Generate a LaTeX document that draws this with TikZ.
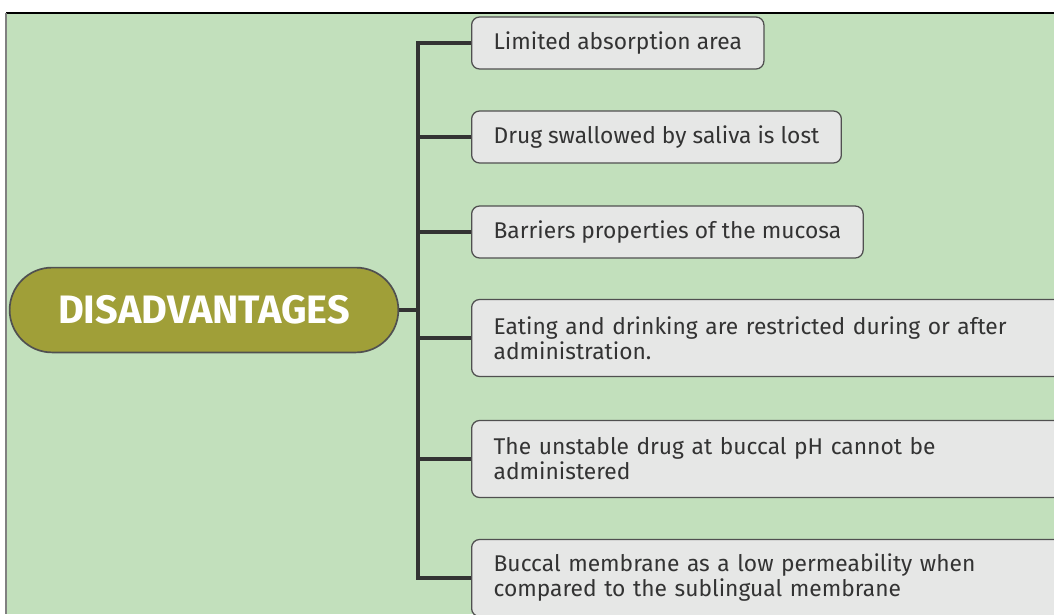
\documentclass[tikz,border=0pt]{standalone}
\usepackage{fontspec}
\setmainfont{Fira Sans}
\usetikzlibrary{shapes.misc}

\definecolor{bggreen}{HTML}{C2E0BC}
\definecolor{boxgray}{HTML}{E6E7E6}
\definecolor{boxline}{HTML}{505050}
\definecolor{textgray}{HTML}{333333}
\definecolor{olive}{HTML}{A09F38}
\definecolor{trunk}{HTML}{333333}

\tikzset{
  item/.style={draw=boxline, fill=boxgray, rounded corners=0.2cm, line width=0.9pt,
    anchor=west, align=left, minimum height=1.3cm, inner xsep=0.55cm,
    text=textgray, font=\fontsize{16.2}{17.8}\selectfont},
  wideitem/.style={item, minimum height=1.925cm, text width=14.1cm},
  branch/.style={draw=trunk, line width=2.8pt},
}

\begin{document}
\begin{tikzpicture}[x=0.025cm, y=-0.025cm]
    \useasboundingbox (0,0) rectangle (1054,614);
    \fill[bggreen] (6,13) rectangle (1054,614);
    \draw[black, line width=0.8pt] (6,13) -- (1054,13);
    \draw[gray, line width=0.8pt] (6,13) -- (6,614);

    \node[rounded rectangle, draw=boxline, fill=olive, line width=1.2pt,
      minimum width=9.95cm, minimum height=2.12cm, text=white,
      font=\fontsize{28.2}{30}\selectfont\bfseries] (main) at (204,310) {DISADVANTAGES};

    \node[item] (b1) at (471,43) {Limited absorption area};
    \node[item] (b2) at (471,137) {Drug swallowed by saliva is lost};
    \node[item] (b3) at (471,232) {Barriers properties of the mucosa};
    \node[wideitem] (b4) at (471,338) {Eating and drinking are restricted during or after\\administration.};
    \node[wideitem] (b5) at (471,459) {The unstable drug at buccal pH cannot be\\administered};
    \node[wideitem] (b6) at (471,578) {Buccal membrane as a low permeability when\\compared to the sublingual membrane};

    \coordinate (hub) at (418,310);
    \draw[branch] (main.east) -- (hub);
    \foreach \i in {1,...,6}
        \draw[branch] (hub) |- (b\i.west);
\end{tikzpicture}
\end{document}
